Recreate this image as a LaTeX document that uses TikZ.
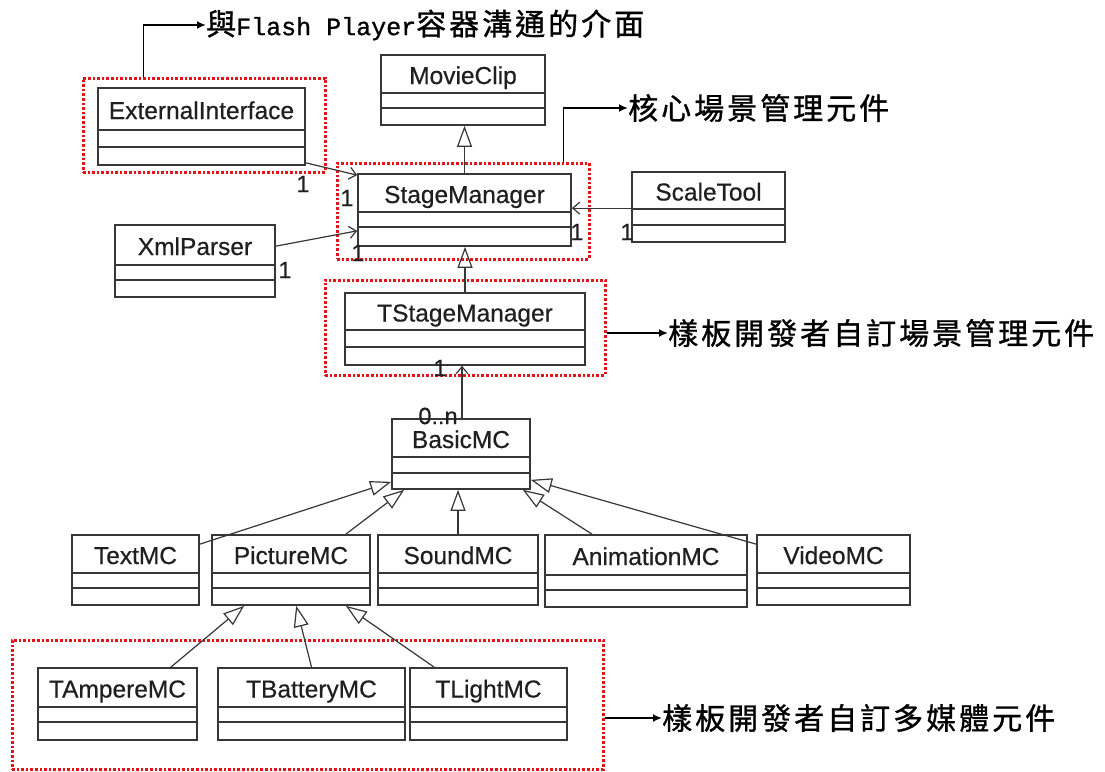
\documentclass[tikz,border=0pt]{standalone}
\usepackage{fontspec}
\setmainfont[FakeBold=0.5]{Liberation Sans}
\newfontfamily\cjkf[LetterSpace=10,FakeBold=1]{Noto Sans CJK TC}
\newfontfamily\monof[FakeBold=1]{Liberation Mono}
\usetikzlibrary{arrows.meta,fit,calc}
\definecolor{dotred}{RGB}{225,20,25}
\definecolor{ink}{RGB}{55,55,55}
\tikzset{
 clsbox/.style={draw=ink, line width=1.7pt, inner sep=0pt},
 clsline/.style={draw=ink, line width=1.7pt},
 clstext/.style={font=\fontsize{24.5}{26}\selectfont, inner sep=0pt, text=black!88, anchor=base},
 redbox/.style={draw=dotred, line width=3pt, dash pattern=on 2.6pt off 2pt, inner sep=0pt},
 gen/.style={draw=ink, line width=1.2pt, -{Triangle[open,length=21pt,width=15pt,line width=1.2pt]}},
 assoc/.style={draw=ink, line width=1.2pt, -{Straight Barb[length=7pt,width=12pt]}},
 callout/.style={draw=black, line width=1.8pt, -{Latex[length=9pt,width=8pt]}},
 mult/.style={font=\fontsize{23.5}{24}\selectfont, inner sep=0pt, text=black!88},
 cjklab/.style={font=\cjkf\fontsize{30}{32}\selectfont, inner sep=0pt, anchor=west},
}
\newcommand{\umlcls}[8]{%
 \node[clsbox, fit={(#2,#3) (#4,#5)}] (#1) {};
 \draw[clsline] (#2,#6) -- (#4,#6);
 \draw[clsline] (#2,#7) -- (#4,#7);
 \node[clstext] (#1-t) at ({(#2+#4)/2},{(#3+#6)/2+10}) {#8};
}
\begin{document}
\begin{tikzpicture}[x=1pt,y=-1pt]
\fill[white] (0,0) rectangle (1105,771);
\useasboundingbox (0,0) rectangle (1105,771);

% red dotted groups
\node[redbox, fit={(83,78) (325,172)}] (gEI) {};
\node[redbox, fit={(337,163) (589,259)}] (gSM) {};
\node[redbox, fit={(325,280) (605,375)}] (gTSM) {};
\node[redbox, fit={(12,640) (603,769)}] (gT) {};

% classes
\umlcls{EI}{98}{88}{305}{165}{130}{147}{ExternalInterface}
\umlcls{MC}{381}{55}{545}{125}{93}{108}{MovieClip}
\umlcls{SM}{358}{174}{571}{246}{212}{227}{StageManager}
\umlcls{ST}{632}{172}{785}{242}{209}{225}{ScaleTool}
\umlcls{XP}{115}{225}{275}{297}{265}{280}{XmlParser}
\umlcls{TSM}{345}{293}{585}{365}{330}{347}{TStageManager}
\umlcls{BMC}{392}{419}{530}{489}{457}{473}{BasicMC}
\umlcls{TextMC}{72}{535}{199}{605}{573}{588}{TextMC}
\umlcls{PicMC}{212}{535}{370}{605}{573}{588}{PictureMC}
\umlcls{SndMC}{378}{535}{538}{605}{573}{588}{SoundMC}
\umlcls{AniMC}{545}{535}{747}{607}{575}{590}{AnimationMC}
\umlcls{VidMC}{757}{535}{910}{605}{573}{588}{VideoMC}
\umlcls{TAmp}{38}{668}{197}{740}{707}{722}{TAmpereMC}
\umlcls{TBat}{218}{668}{405}{740}{707}{722}{TBatteryMC}
\umlcls{TLig}{410}{668}{567}{740}{707}{722}{TLightMC}

% generalizations
\draw[gen] (SM.north) -- (SM.north |- MC.south);
\draw[gen] (TSM.north) -- (TSM.north |- SM.south);
\draw[gen] ([yshift=-10pt]TextMC.north east) -- ([yshift=8pt]BMC.south west);
\draw[gen] ([xshift=-25pt]PicMC.north east) -- ([xshift=13pt]BMC.south west);
\draw[gen] (SndMC.north) -- (SndMC.north |- BMC.south);
\draw[gen] ([xshift=-54pt]AniMC.north) -- ([xshift=-8pt]BMC.south east);
\draw[gen] ([yshift=-10pt]VidMC.north west) -- ([yshift=10pt]BMC.south east);
\draw[gen] ([xshift=-27pt]TAmp.north east) -- ([xshift=33pt]PicMC.south west);
\draw[gen] (TBat.north) -- ([xshift=85pt]PicMC.south west);
\draw[gen] ([xshift=25pt]TLig.north west) -- ([xshift=-25pt]PicMC.south east);

% associations
\draw[assoc] ([yshift=3pt]EI.south east) -- ([yshift=-2pt]SM.north west);
\draw[assoc] ([yshift=-22pt]XP.north east) -- ([yshift=16pt]SM.south west);
\draw[assoc] ([yshift=-37pt]ST.north west) -- ([yshift=-37pt]ST.north west -| SM.east);
\draw[assoc] ([xshift=1pt]BMC.north) -- ([xshift=1pt]BMC.north |- TSM.south);

% multiplicities
\node[mult] (m1) at (303,184) {1};
\node[mult] (m2) at (347,198) {1};
\node[mult] (m3) at (358,253) {1};
\node[mult] (m4) at (285,270) {1};
\node[mult] (m5) at (577,232) {1};
\node[mult] (m6) at (627,232) {1};
\node[mult] (m7) at (440,368) {1};
\node[mult] (m8) at (438,416) {0..n};

% callout labels
\node[cjklab] (L1) at (206,25) {與{\monof\fontsize{25}{30}\selectfont Flash Player}容器溝通的介面};
\node[cjklab] (L2) at (628,108) {核心場景管理元件};
\node[cjklab] (L3) at (668,333) {樣板開發者自訂場景管理元件};
\node[cjklab] (L4) at (662,718) {樣板開發者自訂多媒體元件};

\draw[callout] ($(gEI.north west)+(62,0)$) |- (L1.west);
\draw[callout] ($(gSM.north east)+(-27,0)$) |- (L2.west);
\draw[callout] (gTSM.east |- L3.west) -- (L3.west);
\draw[callout] (gT.east |- L4.west) -- (L4.west);
\end{tikzpicture}
\end{document}
